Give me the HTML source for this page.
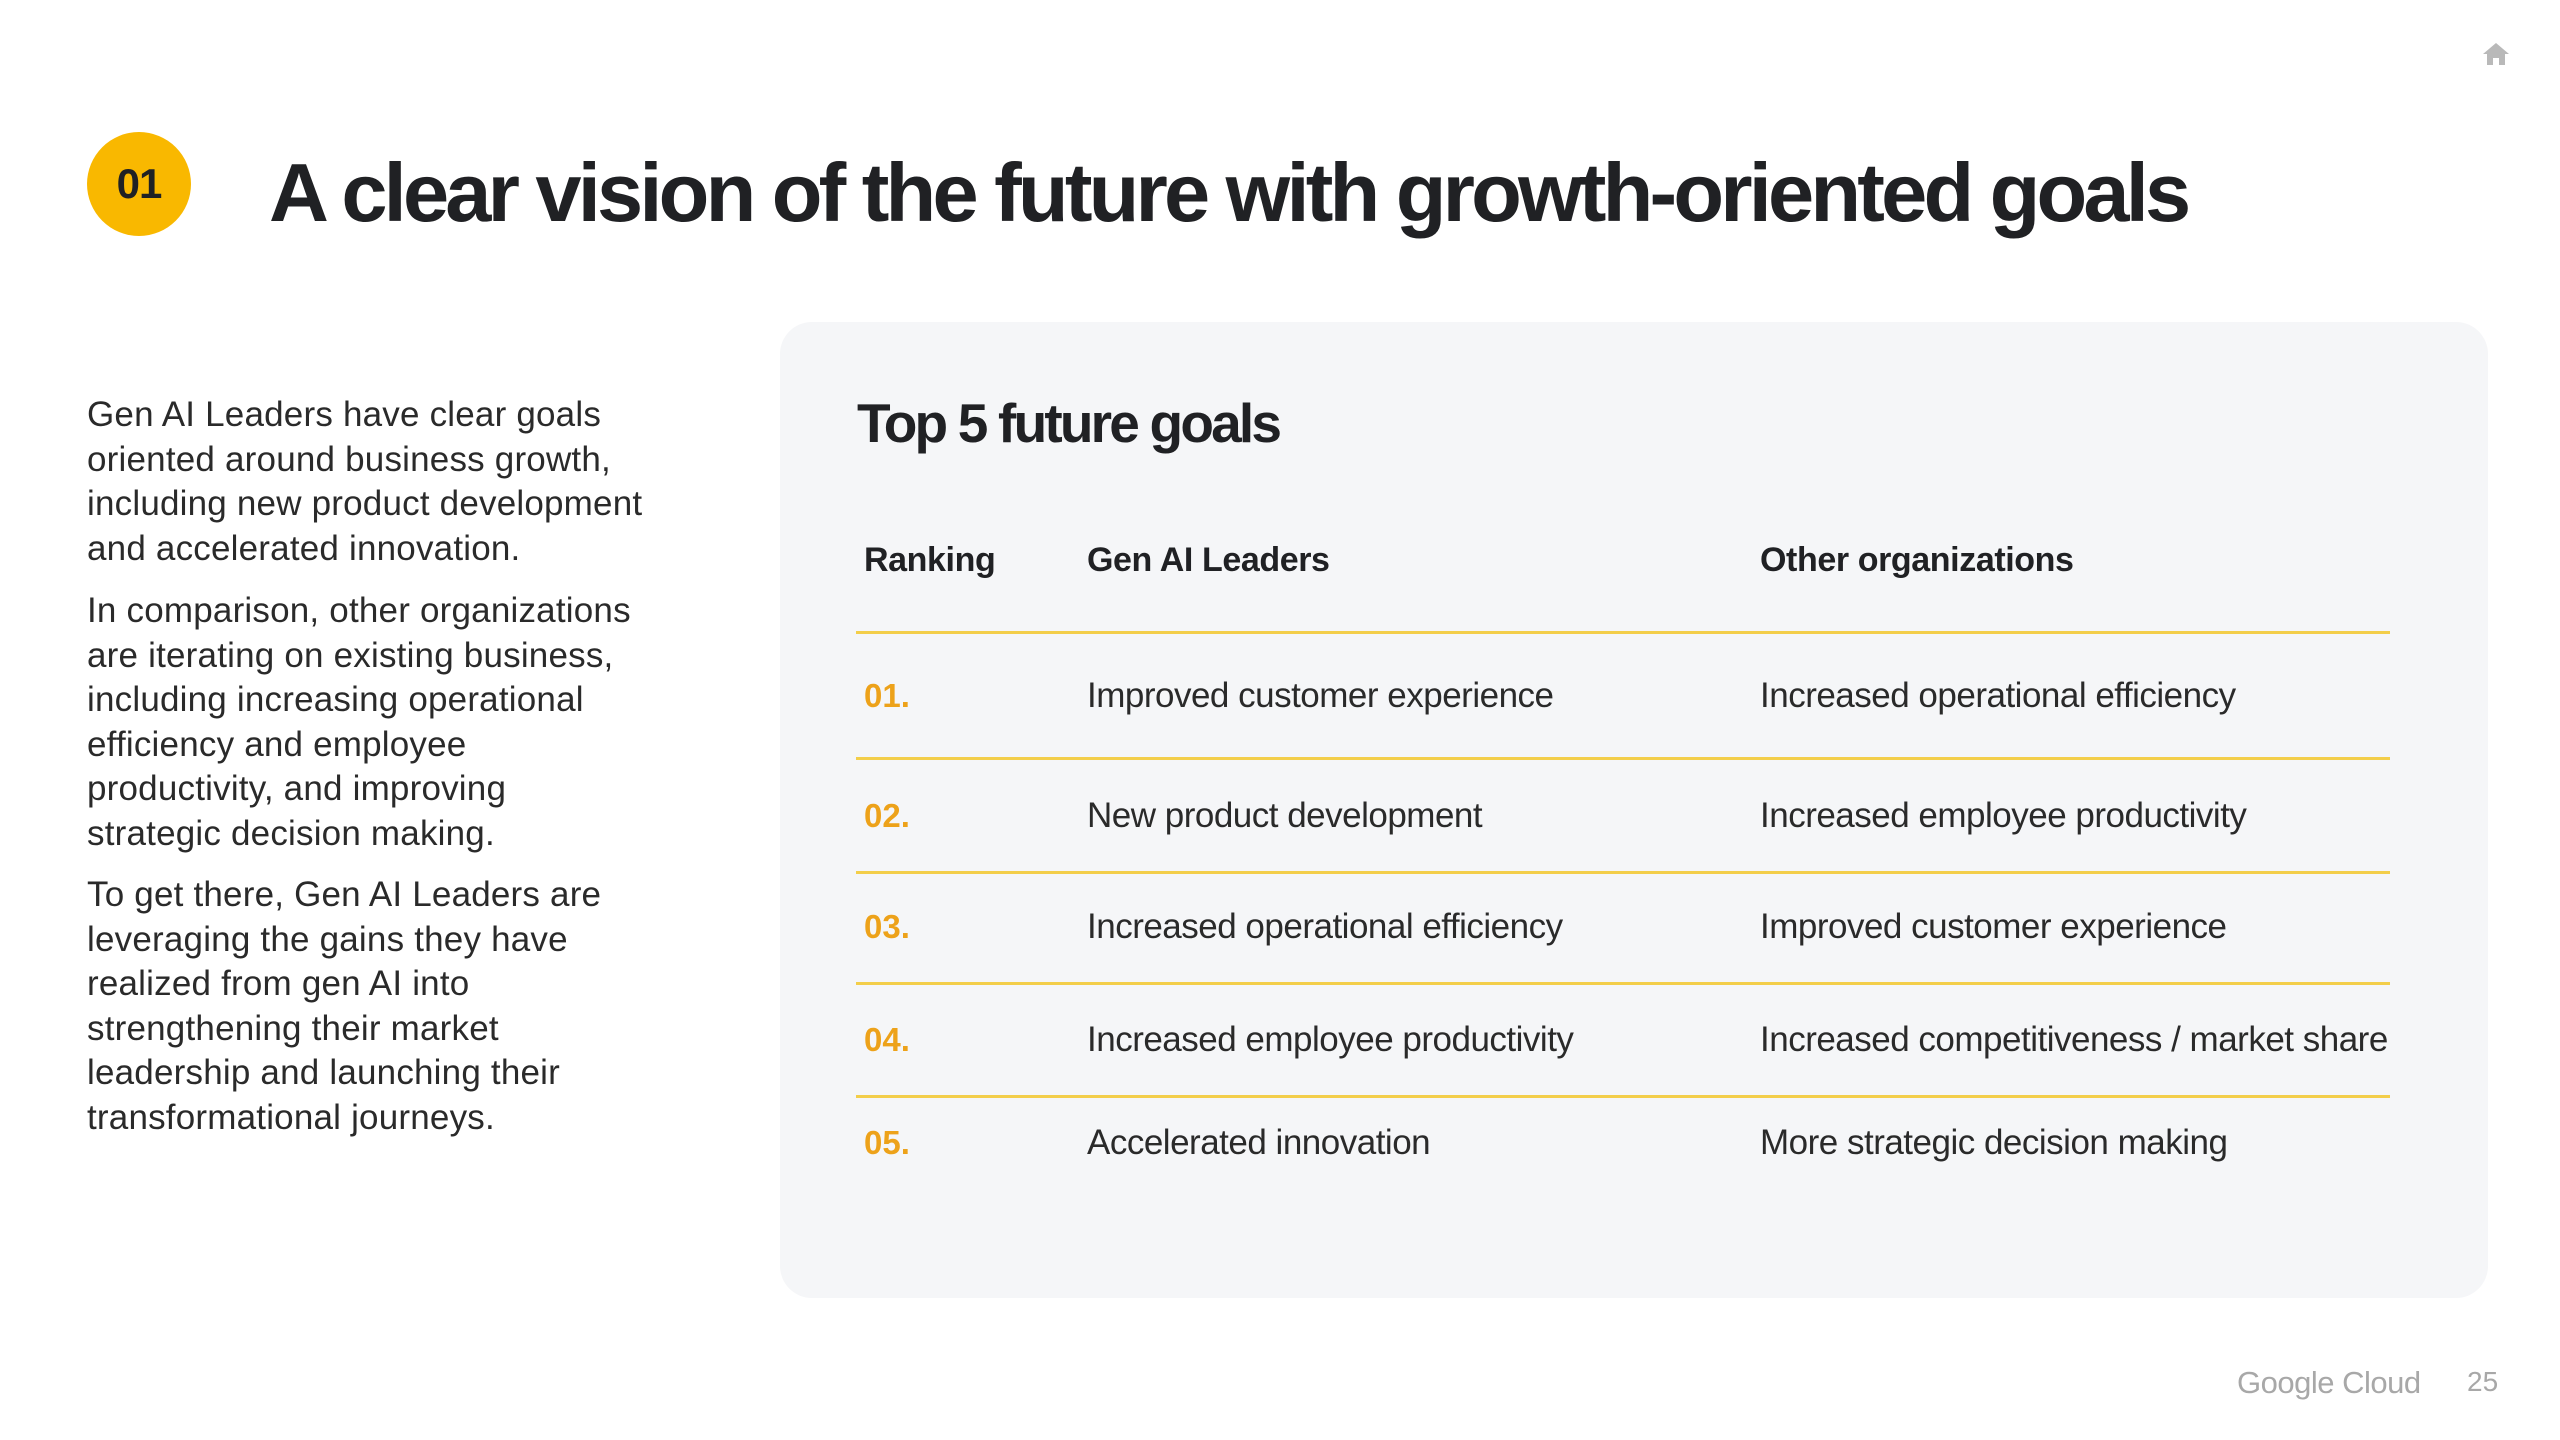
<!DOCTYPE html>
<html><head><meta charset="utf-8"><style>
*{margin:0;padding:0;box-sizing:border-box}
body{width:2560px;height:1440px;background:#fff;position:relative;overflow:hidden;font-family:"Liberation Sans",sans-serif;color:#202124}
.a{position:absolute;white-space:nowrap}
.circ{left:87px;top:132px;width:104px;height:104px;border-radius:50%;background:#f9b800;font-weight:bold;font-size:42px;line-height:104px;text-align:center;letter-spacing:-1px}
.title{left:269px;top:138px;font-size:83px;font-weight:bold;letter-spacing:-3.8px;line-height:110px}
.left{left:87px;font-size:35px;line-height:44.5px;letter-spacing:0.2px;color:#2a2a2a}
.panel{left:780px;top:322px;width:1708px;height:976px;background:#f5f6f8;border-radius:32px}
.ptitle{left:857px;top:388px;font-size:55px;font-weight:bold;letter-spacing:-2.8px;line-height:70px}
.h{font-size:34px;font-weight:bold;letter-spacing:-0.4px;line-height:40px;top:540px}
.line{left:856px;width:1534px;height:3px;background:#f3ce4a}
.r{font-size:35px;letter-spacing:-0.5px;line-height:40px;color:#2a2a2a}
.n{font-size:33px;font-weight:bold;color:#eda21a;left:864px;line-height:40px}
</style></head><body>
<svg class="a" style="left:2483px;top:43px" width="26" height="22" viewBox="0 0 26 22"><path d="M13 0 L26 11 L22 11 L22 22 L16 22 L16 15 L10 15 L10 22 L4 22 L4 11 L0 11 Z" fill="#b9b9b9"/></svg>
<div class="a circ">01</div>
<div class="a title">A clear vision of the future with growth-oriented goals</div>
<div class="a left" style="top:393px">Gen AI Leaders have clear goals<br>oriented around business growth,<br>including new product development<br>and accelerated innovation.</div>
<div class="a left" style="top:589px">In comparison, other organizations<br>are iterating on existing business,<br>including increasing operational<br>efficiency and employee<br>productivity, and improving<br>strategic decision making.</div>
<div class="a left" style="top:873px">To get there, Gen AI Leaders are<br>leveraging the gains they have<br>realized from gen AI into<br>strengthening their market<br>leadership and launching their<br>transformational journeys.</div>
<div class="a panel"></div>
<div class="a ptitle">Top 5 future goals</div>
<div class="a h" style="left:864px">Ranking</div>
<div class="a h" style="left:1087px">Gen AI Leaders</div>
<div class="a h" style="left:1760px">Other organizations</div>
<div class="a line" style="top:631px"></div>
<div class="a line" style="top:757px"></div>
<div class="a line" style="top:871px"></div>
<div class="a line" style="top:982px"></div>
<div class="a line" style="top:1095px"></div>
<div class="a n" style="top:676px">01.</div>
<div class="a r" style="left:1087px;top:676px">Improved customer experience</div>
<div class="a r" style="left:1760px;top:676px">Increased operational efficiency</div>
<div class="a n" style="top:796px">02.</div>
<div class="a r" style="left:1087px;top:796px">New product development</div>
<div class="a r" style="left:1760px;top:796px">Increased employee productivity</div>
<div class="a n" style="top:907px">03.</div>
<div class="a r" style="left:1087px;top:907px">Increased operational efficiency</div>
<div class="a r" style="left:1760px;top:907px">Improved customer experience</div>
<div class="a n" style="top:1020px">04.</div>
<div class="a r" style="left:1087px;top:1020px">Increased employee productivity</div>
<div class="a r" style="left:1760px;top:1020px">Increased competitiveness / market share</div>
<div class="a n" style="top:1123px">05.</div>
<div class="a r" style="left:1087px;top:1123px">Accelerated innovation</div>
<div class="a r" style="left:1760px;top:1123px">More strategic decision making</div>
<div class="a" style="left:2237px;top:1363px;font-size:31px;color:#a8a8a8;letter-spacing:-0.5px;line-height:40px">Google Cloud</div>
<div class="a" style="left:2467px;top:1362px;font-size:28px;color:#a8a8a8;line-height:40px">25</div>
</body></html>
